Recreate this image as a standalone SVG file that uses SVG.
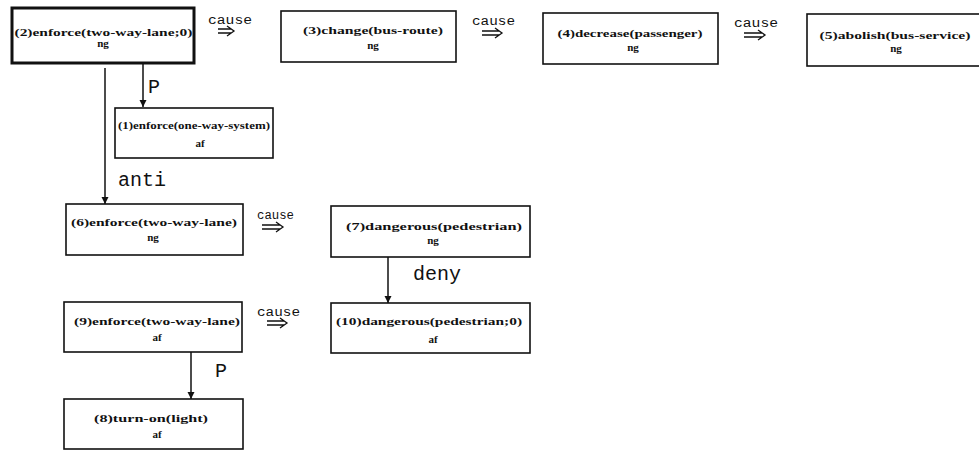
<svg xmlns="http://www.w3.org/2000/svg" width="979" height="451" viewBox="0 0 979 451">
<defs>
<style>
.box{fill:#fff;stroke:#111;stroke-width:1.6}
.thick{stroke-width:3}
.t{font-family:"Liberation Serif","DejaVu Serif",serif;font-weight:bold;font-size:11px;fill:#111;text-anchor:middle}
.lbl{font-family:"Liberation Mono","DejaVu Sans Mono",monospace;font-size:20px;fill:#111}
.cause{font-family:"Liberation Mono","DejaVu Sans Mono",monospace;font-size:12px;fill:#111}
.ln{stroke:#111;stroke-width:1.5;fill:none}
.dbl{stroke:#111;stroke-width:1.3;fill:none}
</style>
<marker id="ah" viewBox="0 0 10 10" refX="10" refY="5" markerWidth="7" markerHeight="8" markerUnits="userSpaceOnUse" orient="auto">
<path d="M0,0 L10,5 L0,10 Z" fill="#111"/>
</marker>
</defs>
<rect width="979" height="451" fill="#fff"/>

<g id="connectors">
<line class="ln" x1="143" y1="63" x2="143" y2="107" marker-end="url(#ah)"/>
<text class="lbl" x="148" y="93">P</text>
<line class="ln" x1="105" y1="68" x2="105" y2="204" marker-end="url(#ah)"/>
<text class="lbl" x="118" y="186">anti</text>
<line class="ln" x1="388" y1="257" x2="388" y2="303" marker-end="url(#ah)"/>
<text class="lbl" x="413" y="280">deny</text>
<line class="ln" x1="191" y1="352" x2="191" y2="399" marker-end="url(#ah)"/>
<text class="lbl" x="215" y="377">P</text>

<g id="c1">
<text class="cause" x="208" y="24" textLength="44" lengthAdjust="spacingAndGlyphs">cause</text>
<path class="dbl" d="M218,29 H231 M218,33 H231 M227,26 L234,31 L227,36"/>
</g>
<g id="c2">
<text class="cause" x="472" y="25" textLength="43" lengthAdjust="spacingAndGlyphs">cause</text>
<path class="dbl" d="M482,31 H499 M482,35 H499 M495,28 L502,33 L495,38"/>
</g>
<g id="c3">
<text class="cause" x="734" y="27" textLength="44" lengthAdjust="spacingAndGlyphs">cause</text>
<path class="dbl" d="M744,33 H762 M744,37 H762 M758,30 L765,35 L758,40"/>
</g>
<g id="c4">
<text class="cause" x="257" y="219" textLength="37" lengthAdjust="spacingAndGlyphs">cause</text>
<path class="dbl" d="M262,225 H280 M262,229 H280 M276,222 L283,227 L276,232"/>
</g>
<g id="c5">
<text class="cause" x="257" y="316" textLength="43" lengthAdjust="spacingAndGlyphs">cause</text>
<path class="dbl" d="M267,321 H284 M267,325 H284 M280,318 L287,323 L280,328"/>
</g>
</g>

<g id="n2">
<rect class="box thick" x="12" y="8" width="182" height="55"/>
<text class="t" x="103.5" y="36" textLength="178" lengthAdjust="spacingAndGlyphs">(2)enforce(two-way-lane;0)</text>
<text class="t" x="103" y="47">ng</text>
</g>
<g id="n3">
<rect class="box" x="281" y="11" width="175" height="51"/>
<text class="t" x="373" y="34" textLength="140" lengthAdjust="spacingAndGlyphs">(3)change(bus-route)</text>
<text class="t" x="373" y="49">ng</text>
</g>
<g id="n4">
<rect class="box" x="543" y="13" width="175" height="51"/>
<text class="t" x="630" y="37" textLength="145" lengthAdjust="spacingAndGlyphs">(4)decrease(passenger)</text>
<text class="t" x="633" y="51">ng</text>
</g>
<g id="n5">
<rect class="box" x="807" y="14" width="185" height="52"/>
<text class="t" x="895" y="39" textLength="151" lengthAdjust="spacingAndGlyphs">(5)abolish(bus-service)</text>
<text class="t" x="896" y="52">ng</text>
</g>
<g id="n1">
<rect class="box" x="115" y="108" width="158" height="50"/>
<text class="t" x="194" y="129" textLength="152" lengthAdjust="spacingAndGlyphs">(1)enforce(one-way-system)</text>
<text class="t" x="200" y="147">af</text>
</g>
<g id="n6">
<rect class="box" x="66" y="204" width="177" height="51"/>
<text class="t" x="154" y="226" textLength="166" lengthAdjust="spacingAndGlyphs">(6)enforce(two-way-lane)</text>
<text class="t" x="153" y="241">ng</text>
</g>
<g id="n7">
<rect class="box" x="331" y="206" width="199" height="51"/>
<text class="t" x="434" y="230" textLength="176" lengthAdjust="spacingAndGlyphs">(7)dangerous(pedestrian)</text>
<text class="t" x="433" y="244">ng</text>
</g>
<g id="n10">
<rect class="box" x="331" y="303" width="199" height="50"/>
<text class="t" x="429" y="325" textLength="186" lengthAdjust="spacingAndGlyphs">(10)dangerous(pedestrian;0)</text>
<text class="t" x="433" y="343">af</text>
</g>
<g id="n9">
<rect class="box" x="64" y="302" width="178" height="50"/>
<text class="t" x="157" y="325" textLength="166" lengthAdjust="spacingAndGlyphs">(9)enforce(two-way-lane)</text>
<text class="t" x="157" y="341">af</text>
</g>
<g id="n8">
<rect class="box" x="64" y="399" width="179" height="50"/>
<text class="t" x="151" y="422" textLength="114" lengthAdjust="spacingAndGlyphs">(8)turn-on(light)</text>
<text class="t" x="157" y="438">af</text>
</g>
</svg>
